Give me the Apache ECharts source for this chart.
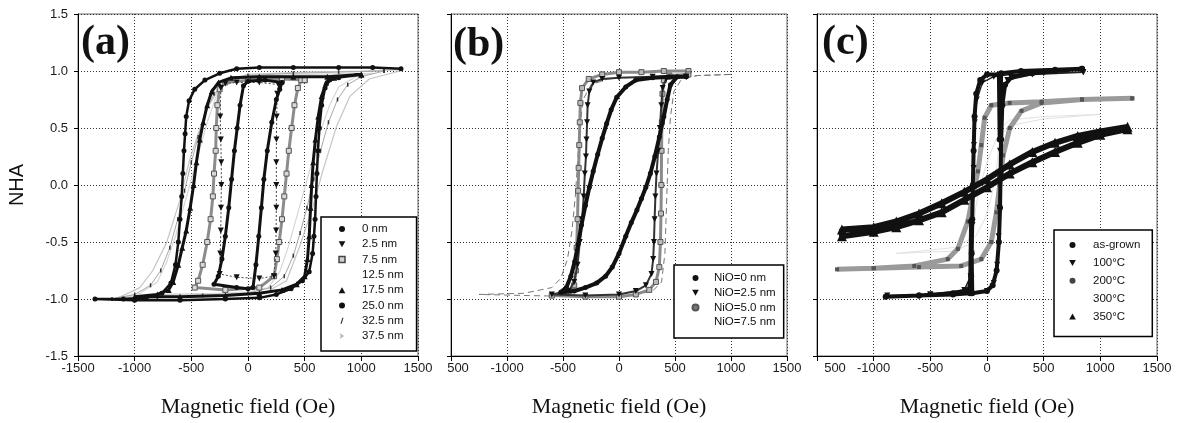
<!DOCTYPE html>
<html><head><meta charset="utf-8">
<script src="https://cdn.jsdelivr.net/npm/echarts@6/dist/echarts.min.js"></script>
<style>html,body{margin:0;padding:0;background:#fff}#c{width:1181px;height:423px}</style>
</head><body><div id="c"></div>
<script>
// ---------- tick labels ----------
const xLabelsA = ['-1500','-1000','-500','0','500','1000','1500'];
const xLabelsBC = ['500','-1000','-500','0','500','1000','1500'];
const yLabels = ['-1.5','-1.0','-0.5','0.0','0.5','1.0','1.5'];
const panelTags = ['(a)','(b)','(c)'];
const yTitle = 'NHA';
const xTitle = 'Magnetic field (Oe)';

// ---------- panel (a): NiO thickness series ----------
const namesA = ['0 nm','2.5 nm','7.5 nm','12.5 nm','17.5 nm','25.0 nm','32.5 nm','37.5 nm'];
const a_0 = [[1350,1.02],[1100,1.03],[800,1.03],[400,1.03],[100,1.03],[-100,1.02],[-250,0.98],[-380,0.92],[-470,0.84],[-520,0.74],[-545,0.6],[-555,0.45],[-565,0.3],[-575,0.1],[-585,-0.1],[-600,-0.3],[-615,-0.5],[-640,-0.7],[-680,-0.86],[-760,-0.95],[-900,-0.99],[-1100,-1.0],[-1350,-1.0],
  [-1000,-1.01],[-600,-1.01],[-200,-1.0],[100,-0.99],[250,-0.96],[380,-0.91],[480,-0.84],[540,-0.76],[570,-0.6],[582,-0.45],[592,-0.3],[600,-0.1],[608,0.1],[617,0.3],[630,0.5],[650,0.7],[680,0.85],[720,0.92],[800,0.94]];
const a_2_5 = [[270,0.88],[100,0.9],[-100,0.9],[-200,0.89],[-240,0.85],[-245,0.6],[-240,0.4],[-236,0.2],[-235,0.0],[-238,-0.2],[-240,-0.4],[-245,-0.6],[-250,-0.78],
  [-100,-0.81],[100,-0.82],[230,-0.8],[245,-0.6],[248,-0.4],[250,-0.2],[250,0.0],[250,0.2],[251,0.4],[253,0.6],[258,0.8],[270,0.88]];
const a_7_5 = [[500,0.92],[300,0.93],[0,0.92],[-200,0.9],[-250,0.84],[-270,0.7],[-280,0.5],[-285,0.3],[-300,0.1],[-310,-0.1],[-330,-0.3],[-360,-0.5],[-400,-0.7],[-440,-0.84],[-470,-0.9],
  [-200,-0.92],[100,-0.9],[230,-0.8],[255,-0.65],[275,-0.5],[300,-0.3],[320,-0.1],[340,0.1],[360,0.3],[385,0.5],[410,0.7],[440,0.85],[470,0.92],[500,0.92]];
const a_12_5 = [[1100,0.98],[500,0.97],[0,0.95],[-180,0.92],[-280,0.78],[-360,0.55],[-430,0.3],[-500,0.05],[-570,-0.2],[-640,-0.45],[-720,-0.68],[-800,-0.85],[-950,-0.95],[-1100,-0.98],
  [-500,-0.96],[0,-0.94],[180,-0.9],[280,-0.76],[360,-0.53],[430,-0.28],[500,-0.03],[570,0.22],[640,0.47],[720,0.7],[800,0.86],[950,0.95],[1100,0.98]];
const a_17_5 = [[1000,0.97],[700,0.95],[400,0.95],[100,0.95],[-150,0.94],[-260,0.9],[-320,0.82],[-360,0.7],[-395,0.55],[-425,0.4],[-455,0.2],[-480,0.0],[-510,-0.2],[-545,-0.4],[-580,-0.55],[-615,-0.7],[-660,-0.85],[-700,-0.92],[-800,-0.96],[-1000,-0.98],
  [-600,-0.98],[-200,-0.97],[100,-0.95],[300,-0.92],[430,-0.87],[500,-0.8],[525,-0.65],[540,-0.45],[552,-0.2],[562,0.0],[575,0.2],[595,0.4],[620,0.6],[650,0.78],[690,0.9],[760,0.94],[1000,0.97]];
const a_25 = [[300,0.9],[150,0.92],[0,0.91],[-40,0.87],[-70,0.7],[-95,0.5],[-120,0.3],[-145,0.05],[-170,-0.2],[-200,-0.45],[-230,-0.65],[-262,-0.8],[-300,-0.87],
  [-100,-0.9],[0,-0.91],[44,-0.9],[70,-0.7],[95,-0.45],[118,-0.2],[140,0.05],[170,0.3],[210,0.55],[250,0.75],[280,0.84],[300,0.9]];
const a_32_5 = [[1200,1.0],[800,0.99],[400,0.98],[0,0.96],[-200,0.9],[-300,0.8],[-380,0.62],[-440,0.42],[-500,0.2],[-560,-0.05],[-620,-0.3],[-690,-0.55],[-770,-0.75],[-860,-0.88],[-1000,-0.96],[-1200,-1.0],
  [-800,-0.99],[-400,-0.97],[0,-0.95],[200,-0.9],[320,-0.8],[400,-0.62],[460,-0.42],[520,-0.2],[580,0.05],[640,0.3],[710,0.55],[790,0.75],[880,0.88],[1000,0.95],[1200,1.0]];
const a_37_5 = [[1340,1.01],[1000,1.0],[500,0.99],[0,0.97],[-220,0.9],[-370,0.66],[-515,0.22],[-600,-0.13],[-720,-0.51],[-840,-0.75],[-955,-0.9],[-1100,-0.97],[-1190,-1.0],
  [-750,-0.96],[0,-0.95],[160,-0.94],[340,-0.84],[456,-0.54],[573,-0.19],[662,0.13],[780,0.51],[900,0.78],[1070,0.93],[1340,1.0]];

// ---------- panel (b) ----------
const namesB = ['NiO=0 nm','NiO=2.5 nm','NiO=5.0 nm','NiO=7.5 nm'];
const b_0 = [[600,0.95],[450,0.95],[300,0.94],[150,0.92],[60,0.86],[-20,0.77],[-70,0.66],[-110,0.54],[-150,0.41],[-190,0.27],[-230,0.12],[-265,-0.02],[-300,-0.18],[-335,-0.35],[-365,-0.52],[-395,-0.67],[-430,-0.8],[-470,-0.9],[-520,-0.94],
  [-400,-0.93],[-300,-0.9],[-200,-0.86],[-120,-0.8],[-60,-0.72],[0,-0.6],[60,-0.45],[110,-0.33],[160,-0.22],[200,-0.12],[240,-0.02],[280,0.1],[320,0.25],[360,0.42],[400,0.6],[430,0.75],[460,0.88],[520,0.95],[600,0.95]];
const b_2_5 = [[600,0.95],[300,0.95],[0,0.94],[-150,0.93],[-230,0.9],[-265,0.82],[-280,0.7],[-285,0.55],[-290,0.4],[-295,0.25],[-305,0.1],[-315,-0.1],[-330,-0.3],[-350,-0.5],[-370,-0.7],[-400,-0.85],[-450,-0.93],[-600,-0.96],
  [-300,-0.97],[0,-0.96],[150,-0.93],[240,-0.88],[290,-0.78],[305,-0.65],[312,-0.5],[318,-0.3],[325,-0.1],[335,0.1],[350,0.3],[365,0.5],[378,0.7],[390,0.85],[420,0.93],[600,0.95]];
const b_5_0 = [[620,1.0],[400,1.0],[200,0.99],[0,0.99],[-150,0.97],[-270,0.93],[-330,0.85],[-345,0.72],[-350,0.55],[-355,0.35],[-360,0.15],[-365,-0.05],[-370,-0.3],[-378,-0.55],[-385,-0.75],[-400,-0.88],[-450,-0.94],[-600,-0.97],
  [-300,-0.98],[0,-0.98],[150,-0.96],[270,-0.92],[330,-0.85],[360,-0.72],[370,-0.5],[375,-0.25],[378,0.0],[380,0.3],[383,0.55],[388,0.8],[400,0.92],[450,0.96],[620,0.97]];
const b_7_5 = [[1000,0.97],[700,0.96],[450,0.95],[200,0.95],[-100,0.93],[-250,0.88],[-320,0.75],[-350,0.5],[-370,0.2],[-390,-0.1],[-420,-0.4],[-460,-0.65],[-520,-0.82],[-600,-0.9],[-850,-0.95],[-1250,-0.96],
  [-800,-0.97],[-300,-0.98],[100,-0.97],[300,-0.93],[380,-0.85],[410,-0.6],[420,-0.3],[430,0.0],[440,0.3],[460,0.6],[490,0.82],[560,0.93],[700,0.96],[1000,0.97]];

// ---------- panel (c): annealing ----------
const namesC = ['as-grown','100°C','200°C','300°C','350°C'];
const c_asg = [[838,1.02],[600,1.01],[300,1.0],[125,0.98],[112,0.4],[105,0.97],[0,0.97],[-60,0.92],[-95,0.8],[-110,0.6],[-118,0.3],[-125,0.0],[-130,-0.3],[-135,-0.6],[-140,-0.8],[-160,-0.92],[-300,-0.95],[-600,-0.97],[-894,-0.98],
  [-600,-0.97],[-300,-0.96],[-150,-0.95],[-140,-0.32],[-130,-0.95],[0,-0.93],[50,-0.88],[85,-0.75],[105,-0.5],[115,-0.2],[120,0.1],[125,0.4],[135,0.7],[160,0.88],[220,0.95],[400,0.98],[600,1.0],[838,1.02]];
const c_100 = [[850,0.99],[500,0.98],[200,0.97],[60,0.95],[-40,0.9],[-90,0.75],[-108,0.55],[-115,0.35],[-118,0.15],[-122,-0.1],[-128,-0.35],[-135,-0.6],[-145,-0.8],[-200,-0.92],[-500,-0.96],[-880,-0.97],
  [-500,-0.96],[-150,-0.95],[0,-0.93],[60,-0.86],[90,-0.7],[102,-0.45],[108,-0.2],[112,0.05],[115,0.3],[120,0.55],[135,0.8],[180,0.92],[400,0.97],[850,0.99]];
const c_200 = [[1282,0.76],[838,0.75],[482,0.73],[200,0.72],[38,0.7],[-21,0.59],[-50,0.35],[-80,0.12],[-124,-0.09],[-169,-0.32],[-257,-0.56],[-346,-0.65],[-642,-0.71],[-1000,-0.73],[-1323,-0.74],
  [-1000,-0.73],[-600,-0.72],[-228,-0.71],[-50,-0.65],[38,-0.5],[83,-0.24],[112,0.0],[142,0.26],[201,0.5],[305,0.65],[482,0.72],[838,0.75],[1282,0.76]];
const c_300 = [[1000,0.62],[500,0.6],[200,0.57],[120,0.5],[100,0.3],[80,0.1],[40,-0.1],[-20,-0.3],[-100,-0.45],[-300,-0.55],[-800,-0.6],
  [-300,-0.58],[-150,-0.52],[-120,-0.4],[-100,-0.2],[-60,0.0],[0,0.2],[80,0.4],[200,0.52],[500,0.58],[1000,0.62]];
const c_350 = [[1240,0.51],[1000,0.47],[800,0.43],[600,0.37],[400,0.29],[200,0.18],[0,0.05],[-200,-0.06],[-400,-0.16],[-600,-0.25],[-800,-0.32],[-1000,-0.37],[-1280,-0.39],
  [-1280,-0.45],[-1000,-0.41],[-800,-0.37],[-600,-0.31],[-400,-0.24],[-200,-0.13],[0,-0.02],[200,0.1],[400,0.2],[600,0.29],[800,0.37],[1000,0.44],[1240,0.49]];

// ---------- layout ----------
const grids = [
  {left:78, top:14, width:340, height:342},
  {left:451, top:14, width:336, height:342},
  {left:817, top:14, width:340, height:342}
];
const BLACK = '#111';
const DOWN_TRI = 'path://M0,0L10,0L5,9Z';
const UP_TRI = 'path://M5,0L10,9L0,9Z';
const SQUARE = 'path://M0,0L10,0L10,10L0,10Z';

function xAxisFor(i){
  const labels = i === 0 ? xLabelsA : xLabelsBC;
  return {
    type:'value', gridIndex:i, min:-1500, max:1500, interval:500,
    axisLine:{show:true, onZero:false, lineStyle:{color:'#000', width:1}},
    axisTick:{show:true, length:5, lineStyle:{color:'#000'}},
    axisLabel:{margin:6, color:'#1a1a1a', fontSize:13, fontFamily:'Liberation Sans, Arial',
      formatter:(v, idx) => (i > 0 && idx === 0) ? '{cut|' + labels[idx] + '}' : labels[idx],
      rich:{cut:{fontSize:13, fontFamily:'Liberation Sans, Arial', color:'#1a1a1a', padding:[0,0,0, i === 1 ? 14 : 36]}}},
    splitLine:{show:true, lineStyle:{type:[1,2], color:'#333', width:1}},
    name:xTitle, nameLocation:'middle', nameGap:40,
    nameTextStyle:{fontFamily:'Liberation Serif, Times New Roman', fontSize:22, color:'#111'}
  };
}
function yAxisFor(i){
  return {
    type:'value', gridIndex:i, min:-1.5, max:1.5, interval:0.5,
    axisLine:{show:true, onZero:false, lineStyle:{color:'#000', width:1}},
    axisTick:{show:true, length:4, lineStyle:{color:'#000'}},
    axisLabel:{show:i === 0, margin:10, color:'#1a1a1a', fontSize:13, fontFamily:'Liberation Sans, Arial',
      formatter:(v, idx) => yLabels[idx]},
    splitLine:{show:true, lineStyle:{type:[1,2], color:'#333', width:1}}
  };
}
function ser(name, data, g, o){
  return {
    name, type:'line', data, xAxisIndex:g, yAxisIndex:g,
    symbol:o.symbol || 'none', symbolSize:o.size || 5, symbolRotate:o.rotate || 0,
    showSymbol:!!o.symbol,
    lineStyle:{color:o.line, width:o.lw || 1, type:o.dash || 'solid'},
    itemStyle:{color:o.fill || o.line, borderColor:o.border || o.fill || o.line, borderWidth:o.bw || 0},
    z:o.z || 2, animation:false, silent:true, clip:true
  };
}

const series = [
  // (a) drawn light -> dark
  ser(namesA[7], a_37_5, 0, {line:'#c4c4c4', lw:1.2, z:2}),
  ser(namesA[3], a_12_5, 0, {line:'#d6d6d6', lw:1.2, z:2}),
  ser(namesA[6], a_32_5, 0, {line:'#a8a8a8', lw:1, symbol:'rect', size:[1.5,4], fill:'#333', z:3}),
  ser(namesA[2], a_7_5, 0, {line:'#8c8c8c', lw:3, symbol:'rect', size:5, fill:'#d8d8d8', border:'#555', bw:1, z:4}),
  ser(namesA[1], a_2_5, 0, {line:'#444', lw:1, dash:[2,2], symbol:'triangle', rotate:180, size:6, fill:BLACK, z:5}),
  ser(namesA[5], a_25, 0, {line:BLACK, lw:3, symbol:'circle', size:5, fill:BLACK, z:5}),
  ser(namesA[4], a_17_5, 0, {line:BLACK, lw:3, symbol:'triangle', size:6, fill:BLACK, z:5}),
  ser(namesA[0], a_0, 0, {line:BLACK, lw:2.5, symbol:'circle', size:5, fill:BLACK, z:6}),
  // (b)
  ser(namesB[3], b_7_5, 1, {line:'#777', lw:1, dash:[6,4], z:2}),
  ser(namesB[2], b_5_0, 1, {line:'#8a8a8a', lw:3, symbol:'rect', size:5, fill:'#bbb', border:'#555', bw:1, z:3}),
  ser(namesB[1], b_2_5, 1, {line:'#333', lw:2, symbol:'triangle', rotate:180, size:6, fill:BLACK, z:4}),
  ser(namesB[0], b_0, 1, {line:BLACK, lw:4, symbol:'circle', size:5, fill:BLACK, z:5}),
  // (c)
  ser(namesC[3], c_300, 2, {line:'#e2e2e2', lw:1, z:2}),
  ser(namesC[2], c_200, 2, {line:'#9a9a9a', lw:5, symbol:'rect', size:4, fill:'#555', z:3}),
  ser(namesC[4], c_350, 2, {line:BLACK, lw:6, symbol:'triangle', size:10, fill:BLACK, z:4}),
  ser(namesC[1], c_100, 2, {line:'#222', lw:1.5, symbol:'triangle', rotate:180, size:6, fill:BLACK, z:5}),
  ser(namesC[0], c_asg, 2, {line:BLACK, lw:4, symbol:'circle', size:6, fill:BLACK, z:6})
];

function legendFor(names, icons, box){
  return {
    orient:'vertical', left:box.left, top:box.top, padding:box.pad,
    itemWidth:box.w, itemHeight:6, itemGap:box.gap, symbolKeepAspect:true,
    borderColor:'#000', borderWidth:1.5, backgroundColor:'#fff', borderRadius:0,
    selectedMode:false, z:20,
    textStyle:{fontSize:11.5, lineHeight:12, color:'#111', fontFamily:'Liberation Sans, Arial'},
    data:names.map((n, k) => ({name:n, icon:icons[k].icon, itemStyle:icons[k].style}))
  };
}
const iconsA = [
  {icon:'circle', style:{color:BLACK}},
  {icon:DOWN_TRI, style:{color:BLACK}},
  {icon:SQUARE, style:{color:'#d0d0d0', borderColor:'#444', borderWidth:1.5}},
  {icon:'none', style:{}},
  {icon:UP_TRI, style:{color:BLACK}},
  {icon:'circle', style:{color:BLACK}},
  {icon:'path://M3,0L5,0L2,10L0,10Z', style:{color:'#333'}},
  {icon:'path://M0,0L6,4L0,8L1,4Z', style:{color:'#bbb'}}
];
const iconsB = [
  {icon:'circle', style:{color:BLACK}},
  {icon:DOWN_TRI, style:{color:BLACK}},
  {icon:'circle', style:{color:'#777'}},
  {icon:'none', style:{}}
];
const iconsC = [
  {icon:'circle', style:{color:BLACK}},
  {icon:DOWN_TRI, style:{color:BLACK}},
  {icon:'circle', style:{color:'#444'}},
  {icon:'none', style:{}},
  {icon:UP_TRI, style:{color:BLACK}}
];

const chart = echarts.init(document.getElementById('c'), null, {renderer:'canvas'});
chart.setOption({
  backgroundColor:'#fff',
  animation:false,
  grid:grids.map(g => Object.assign({show:true, borderColor:'#666', borderWidth:1, backgroundColor:'transparent', containLabel:false}, g)),
  xAxis:[0,1,2].map(xAxisFor),
  yAxis:[0,1,2].map(yAxisFor),
  legend:[
    legendFor(namesA, iconsA, {left:321, top:217, pad:[6,13,9,6], w:30, gap:3.3}),
    legendFor(namesB, iconsB, {left:674, top:265, pad:[7,8,10,8], w:27, gap:2.7}),
    legendFor(namesC, iconsC, {left:1054, top:230, pad:[9,12,14,3], w:31, gap:5.9})
  ],
  graphic:[
    {type:'text', left:81, top:22, z:30, style:{text:panelTags[0], font:'bold 42px "Liberation Serif", "Times New Roman"', fill:'#111'}},
    {type:'text', left:453, top:24, z:30, style:{text:panelTags[1], font:'bold 42px "Liberation Serif", "Times New Roman"', fill:'#111'}},
    {type:'text', left:822, top:22, z:30, style:{text:panelTags[2], font:'bold 42px "Liberation Serif", "Times New Roman"', fill:'#111'}},
    {type:'text', x:17, y:185, rotation:Math.PI/2, z:30, style:{text:yTitle, font:'20px "Liberation Sans", Arial', fill:'#111', align:'center', verticalAlign:'middle'}}
  ],
  series
});
</script>
</body></html>
